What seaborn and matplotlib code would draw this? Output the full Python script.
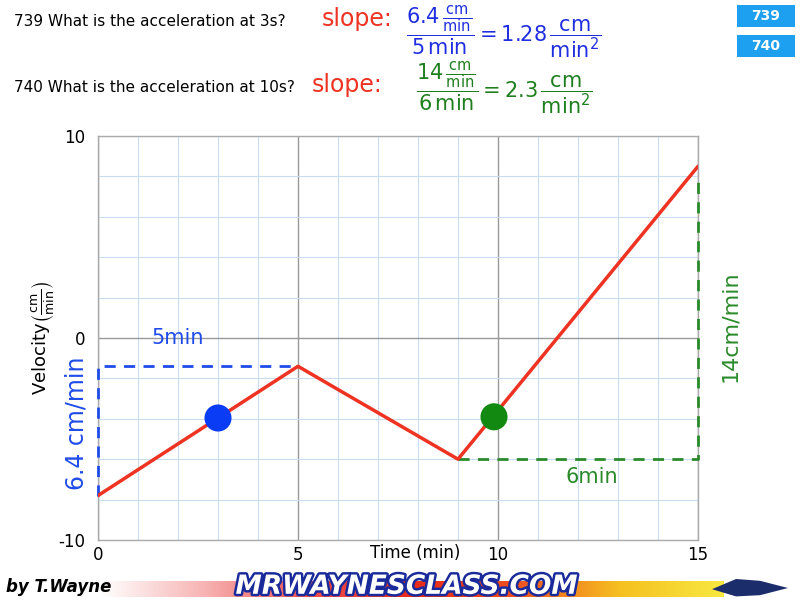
import numpy as np
import pandas as pd
import matplotlib
matplotlib.use("Agg")
import matplotlib.pyplot as plt
import matplotlib.patheffects as pe
from matplotlib.patches import Rectangle, Polygon
import seaborn as sns

# data
time = [0, 5, 9, 15]
velocity = [-7.8, -1.4, -6.0, 8.5]
point_time = [3, 9.9]
point_vel = [-3.96, -3.9]
point_color = ["#0a3cf5", "#128a12"]
blue_guide_x = [0, 0, 5]
blue_guide_y = [-7.8, -1.4, -1.4]
green_guide_x = [9, 15, 15]
green_guide_y = [-6.0, -6.0, 8.0]
x_ticks = [0, 5, 10, 15]
y_ticks = [-10, 0, 10]

sns.set_style("white")
plt.rcParams["font.family"] = ["DejaVu Sans"]
plt.rcParams["mathtext.fontset"] = "dejavusans"
plt.rcParams["axes.unicode_minus"] = False
plt.rcParams["text.color"] = "black"

fig = plt.figure(figsize=(8, 6), dpi=100)
ax = fig.add_axes([0.1225, 0.1, 0.75, 0.6733])

df = pd.DataFrame({"time": time, "velocity": velocity})
pts = pd.DataFrame({"time": point_time, "velocity": point_vel, "c": ["a", "b"]})

# grid
for x in range(0, 16):
    ax.axvline(x, color="#999999" if x % 5 == 0 else "#c9dcf0", lw=1.0 if x % 5 == 0 else 0.8, zorder=0)
for y in range(-10, 11, 2):
    ax.axhline(y, color="#999999" if y == 0 else "#c9dcf0", lw=1.0 if y == 0 else 0.8, zorder=0)

ax.plot(blue_guide_x, blue_guide_y, color="#1f4be8", lw=2, ls=(0, (4, 3)), zorder=3, clip_on=False)
ax.plot(green_guide_x, green_guide_y, color="#2a8a2a", lw=2, ls=(0, (4, 3)), zorder=3, clip_on=False)
sns.lineplot(df, x="time", y="velocity", color="#ee3322", lw=2.5, ax=ax, zorder=4)
sns.scatterplot(pts, x="time", y="velocity", hue="c", palette=point_color, s=380,
                edgecolor="none", legend=False, ax=ax, zorder=5)

ax.set_xlim(0, 15)
ax.set_ylim(-10, 10)
ax.set_xticks(x_ticks)
ax.set_yticks(y_ticks)
ax.tick_params(length=0, labelsize=12, colors="black")
ax.tick_params(axis="y", pad=9)
ax.tick_params(axis="x", pad=4)
for s in ax.spines.values():
    s.set_color("#aaaaaa")
    s.set_linewidth(1)
ax.set_xlabel("")
ax.set_ylabel(r"Velocity$\left(\frac{\mathrm{cm}}{\mathrm{min}}\right)$", fontsize=13, labelpad=2,
              color="black")
fig.text(0.519, 0.078, "Time (min)", fontsize=12, ha="center", va="center")

# annotations
ax.text(2.0, 0.0, "5min", color="#1f4be8", fontsize=15, ha="center", va="center")
ax.text(-0.55, -4.2, "6.4 cm/min", color="#1f4be8", fontsize=17, rotation=90, ha="center", va="center")
ax.text(12.35, -6.9, "6min", color="#2a8a2a", fontsize=15, ha="center", va="center")
ax.text(15.8, 0.6, "14cm/min", color="#2a8a2a", fontsize=16, rotation=90, ha="center", va="center")

# header
fig.text(0.018, 0.965, "739 What is the acceleration at 3s?", fontsize=11, va="center")
fig.text(0.018, 0.855, "740 What is the acceleration at 10s?", fontsize=11, va="center")
fig.text(0.402, 0.968, "slope:", color="#ee3322", fontsize=17, va="center")
fig.text(0.39, 0.858, "slope:", color="#ee3322", fontsize=17, va="center")
fig.text(0.508, 0.947,
         r"$\dfrac{6.4\,\frac{\mathrm{cm}}{\mathrm{min}}}{5\,\mathrm{min}}=1.28\,\dfrac{\mathrm{cm}}{\mathrm{min}^2}$",
         color="#1f2ee0", fontsize=15, va="center")
fig.text(0.52, 0.853,
         r"$\dfrac{14\,\frac{\mathrm{cm}}{\mathrm{min}}}{6\,\mathrm{min}}=2.3\,\dfrac{\mathrm{cm}}{\mathrm{min}^2}$",
         color="#1e7f1e", fontsize=15, va="center")

for yb, lab in [(0.955, "739"), (0.905, "740")]:
    fig.patches.append(Rectangle((0.921, yb), 0.073, 0.037, transform=fig.transFigure,
                                 facecolor="#1ea0f0", edgecolor="none"))
    fig.text(0.9575, yb + 0.0185, lab, color="white", fontsize=10, fontweight="bold",
             ha="center", va="center")

# footer banner
bar = fig.add_axes([0.125, 0.0055, 0.78, 0.026])
grad = np.linspace(0, 1, 256).reshape(1, -1)
cmap = matplotlib.colors.LinearSegmentedColormap.from_list(
    "banner", ["#ffffff", "#f7b3b3", "#f05050", "#e82a1a", "#f05020", "#f5c020", "#f8e840"])
bar.imshow(grad, aspect="auto", cmap=cmap)
bar.axis("off")
fig.text(0.008, 0.022, "by T.Wayne", fontsize=12, fontweight="bold", style="italic", va="center")
fig.text(0.508, 0.022, "MRWAYNESCLASS.COM", fontsize=19, fontweight="bold", style="italic",
         color="white", ha="center", va="center",
         path_effects=[pe.withStroke(linewidth=3.5, foreground="#1a2a9a")])
fig.patches.append(Polygon([[0.89, 0.018], [0.92, 0.035], [0.95, 0.032], [0.985, 0.02],
                            [0.95, 0.008], [0.92, 0.006]], closed=True,
                           transform=fig.transFigure, facecolor="#1c2d6b", edgecolor="none"))

fig.savefig("out.png", dpi=100)
